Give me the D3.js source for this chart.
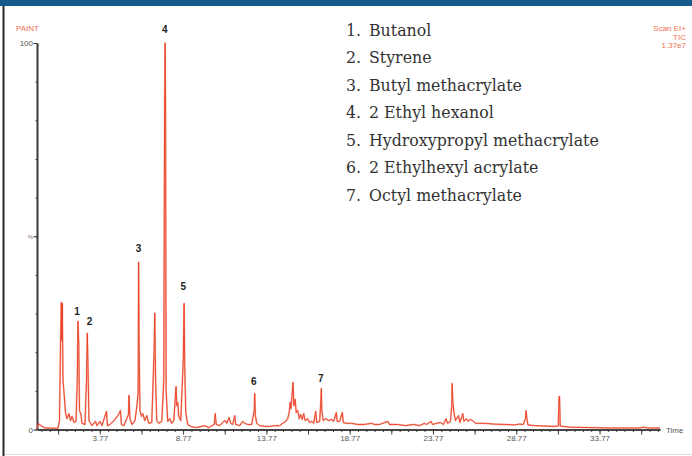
<!DOCTYPE html>
<html>
<head>
<meta charset="utf-8">
<script src="https://cdn.jsdelivr.net/npm/d3@7"></script>
<style>
  body { margin: 0; background: #fff; }
  svg { display: block; }
</style>
</head>
<body>
<svg id="chart" width="692" height="456"></svg>
<script>
// retention time (min) of each point of the TIC trace
let retTime = [0, 0.09, 0.24, 0.48, 1.26, 1.35, 1.41, 1.46, 1.49, 1.52, 1.56, 1.64, 1.71, 1.80, 1.92, 2.01, 2.10, 2.22, 2.34, 2.42,
  2.46, 2.51, 2.55, 2.64, 2.70, 2.88, 2.97, 3.02, 3.06, 3.12, 3.30, 3.51, 3.60, 3.78, 3.90, 4.17, 4.23, 4.38, 4.62, 4.86,
  5.01, 5.07, 5.22, 5.49, 5.52, 5.58, 5.70, 5.88, 6.00, 6.07, 6.10, 6.13, 6.18, 6.27, 6.35, 6.47, 6.59, 6.71, 6.89, 7.03,
  7.07, 7.12, 7.19, 7.31, 7.49, 7.61, 7.66, 7.69, 7.72, 7.75, 7.85, 7.97, 8.09, 8.21, 8.35, 8.39, 8.45, 8.51, 8.63, 8.78,
  8.83, 8.87, 8.93, 9.05, 9.23, 9.53, 9.89, 10.07, 10.31, 10.64, 10.70, 10.76, 10.97, 11.21, 11.30, 11.39, 11.53, 11.63, 11.75, 11.87,
  11.93, 12.17, 12.35, 12.47, 12.65, 12.89, 13.04, 13.07, 13.11, 13.19, 13.37, 13.67, 13.97, 14.27, 14.57, 14.75, 14.93, 15.05, 15.14, 15.20,
  15.25, 15.30, 15.37, 15.42, 15.50, 15.56, 15.65, 15.74, 15.83, 15.92, 16.01, 16.10, 16.25, 16.37, 16.49, 16.61, 16.73, 16.79, 16.97, 17.04,
  17.07, 17.10, 17.18, 17.33, 17.51, 17.69, 17.81, 17.97, 18.02, 18.17, 18.33, 18.39, 18.59, 18.88, 19.24, 19.66, 20.08, 20.26, 20.56, 21.06,
  21.16, 21.64, 22.12, 22.60, 22.96, 23.26, 23.38, 23.66, 23.74, 23.98, 24.22, 24.40, 24.56, 24.64, 24.82, 24.90, 24.92, 24.96, 25.03, 25.12,
  25.30, 25.39, 25.56, 25.63, 25.78, 25.87, 26.02, 26.16, 26.32, 26.86, 27.46, 28.06, 28.66, 28.96, 29.20, 29.32, 29.36, 29.41, 29.47, 29.86,
  30.46, 31.06, 31.29, 31.34, 31.37, 31.41, 31.95, 33.15, 34.35, 36.15, 36.45, 36.63, 37.4];

// relative abundance (%) at each of those times
let abundance = [0.3, 1.5, 1.0, 0.4, 0.3, 2.3, 21.8, 32.9, 23.0, 32.6, 12.7, 8.5, 4.4, 2.8, 4.1, 2.3, 3.4, 1.8, 2.1, 12.7,
  28.0, 21.8, 4.9, 3.9, 1.6, 1.3, 12.7, 24.9, 16.6, 2.3, 1.0, 2.1, 1.0, 2.1, 1.0, 4.7, 1.0, 1.3, 2.3, 3.6,
  4.9, 1.3, 1.0, 3.9, 8.8, 2.8, 1.3, 2.3, 6.2, 9.6, 43.3, 21.8, 4.9, 3.4, 4.1, 2.3, 3.6, 1.6, 1.8, 20.5,
  30.1, 12.7, 2.3, 1.6, 2.1, 12.7, 82.1, 100, 82.1, 10.1, 2.1, 2.8, 1.6, 2.3, 11.1, 6.2, 7.0, 3.4, 2.3, 17.9,
  32.6, 16.1, 4.4, 1.3, 0.8, 0.5, 0.8, 1.0, 0.5, 1.3, 4.1, 1.3, 1.0, 2.1, 2.3, 1.6, 3.1, 1.6, 1.3, 3.6,
  1.3, 1.0, 2.1, 1.6, 1.3, 1.3, 4.9, 9.3, 3.6, 1.6, 1.0, 0.8, 0.8, 1.0, 1.0, 1.6, 2.1, 2.8, 4.4, 7.0,
  5.4, 8.5, 12.2, 6.2, 7.8, 4.4, 4.9, 2.8, 3.9, 2.6, 4.1, 2.3, 2.8, 1.8, 2.1, 1.6, 4.7, 1.8, 2.1, 7.5,
  10.6, 4.9, 2.3, 2.8, 2.3, 2.6, 2.1, 4.4, 2.1, 2.1, 4.4, 1.8, 1.6, 1.6, 1.3, 1.3, 1.6, 1.3, 1.3, 2.1,
  1.3, 1.3, 1.0, 1.3, 1.0, 1.6, 1.3, 2.1, 1.3, 1.6, 1.8, 1.3, 2.8, 1.6, 2.1, 6.2, 11.9, 7.5, 4.4, 2.3,
  3.6, 1.8, 4.1, 2.1, 2.8, 2.1, 2.6, 2.3, 1.6, 1.6, 1.4, 1.3, 1.2, 1.4, 1.3, 2.8, 4.9, 2.8, 1.2, 1.0,
  0.9, 0.8, 0.9, 8.5, 8.5, 0.9, 0.6, 0.5, 0.4, 0.4, 0.6, 0.4, 0.4];

// numbered peaks: where each number sits (time, % level)
let peakIds = ["1", "2", "3", "4", "5", "6", "7"];
let peakLabelTime = [2.40, 3.15, 6.09, 7.67, 8.78, 13.01, 17.03];
let peakLabelLevel = [30.6, 28.0, 46.9, 103.6, 37.0, 12.4, 13.2];
let peakNames = ["Butanol", "Styrene", "Butyl methacrylate", "2 Ethyl hexanol",
  "Hydroxypropyl methacrylate", "2 Ethylhexyl acrylate", "Octyl methacrylate"];

// axis labels
let timeLabels = [3.77, 8.77, 13.77, 18.77, 23.77, 28.77, 33.77];
let yLabelValues = [0, 50, 100];
let yLabelTexts = ["0", "%", "100"];

let svg = d3.select("#chart");

// frame of the figure
svg.append("rect").attr("x", 0).attr("y", 0).attr("width", 692).attr("height", 6).attr("fill", "#165a8b");
svg.append("rect").attr("x", 2.5).attr("y", 6).attr("width", 2).attr("height", 450).attr("fill", "#2a2a2a");
svg.append("line").attr("x1", 5).attr("x2", 692).attr("y1", 454.5).attr("y2", 454.5)
  .attr("stroke", "#dcdcdc").attr("stroke-width", 1);

// set the ranges
let x = d3.scaleLinear().domain([0, 37.4]).range([37, 660]);
let y = d3.scaleLinear().domain([0, 100]).range([429.5, 43]);

let axisColor = "#3a3a3a";
let smallFont = "Liberation Sans, Arial, sans-serif";

// x axis: minor ticks every 0.5 min, longer ticks every 2.5 min
let xMinor = svg.append("g").attr("transform", "translate(0,429.5)")
  .call(d3.axisBottom(x).tickValues(d3.range(0.27, 37.4, 0.5)).tickSize(2.5).tickSizeOuter(0).tickFormat(""));
let xMajor = svg.append("g").attr("transform", "translate(0,429.5)")
  .call(d3.axisBottom(x).tickValues(d3.range(1.27, 37.4, 2.5)).tickSize(5).tickSizeOuter(0)
    .tickFormat(d => timeLabels.some(t => Math.abs(t - d) < 0.01) ? d.toFixed(2) : ""));
[xMinor, xMajor].forEach(g => {
  g.select(".domain").attr("stroke", axisColor).attr("stroke-width", 1.6);
  g.selectAll(".tick line").attr("stroke", axisColor);
  g.selectAll("text").attr("fill", "#555").attr("font-size", 8).attr("font-family", smallFont).attr("dy", "0.45em");
});

// y axis
let yMinor = svg.append("g").attr("transform", "translate(37,0)")
  .call(d3.axisLeft(y).tickValues(d3.range(0, 101, 10)).tickSize(1.5).tickSizeOuter(0).tickFormat(""));
let yMajor = svg.append("g").attr("transform", "translate(37,0)")
  .call(d3.axisLeft(y).tickValues(yLabelValues).tickSize(3.5).tickSizeOuter(0)
    .tickFormat((d, i) => yLabelTexts[i]));
[yMinor, yMajor].forEach(g => {
  g.select(".domain").attr("stroke", axisColor).attr("stroke-width", 1.6);
  g.selectAll(".tick line").attr("stroke", axisColor);
  g.selectAll("text").attr("fill", "#555").attr("font-size", 8).attr("font-family", smallFont).attr("x", -4);
});
yMajor.selectAll(".tick text").filter((d, i) => i === 1).attr("font-size", 6).attr("fill", "#8a7080");

svg.append("text").attr("x", 666).attr("y", 432.5).text("Time")
  .attr("font-size", 8).attr("font-family", smallFont).attr("fill", "#555");

// the TIC trace
let line = d3.line()
  .x((d, i) => x(retTime[i]))
  .y(d => y(d));

svg.append("path")
  .datum(abundance)
  .attr("fill", "none")
  .attr("stroke", "#f27c62")
  .attr("stroke-width", 1.8)
  .attr("stroke-opacity", 0.55)
  .attr("stroke-linejoin", "round")
  .attr("d", line);
svg.append("path")
  .datum(abundance)
  .attr("fill", "none")
  .attr("stroke", "#ea3c22")
  .attr("stroke-width", 0.9)
  .attr("stroke-linejoin", "round")
  .attr("d", line);

// peak numbers
svg.selectAll(".peak-id")
  .data(peakIds)
  .enter().append("text")
    .attr("class", "peak-id")
    .attr("x", (d, i) => x(peakLabelTime[i]))
    .attr("y", (d, i) => y(peakLabelLevel[i]))
    .attr("dy", "0.36em")
    .attr("text-anchor", "middle")
    .attr("font-family", smallFont)
    .attr("font-weight", "bold")
    .attr("font-size", 10)
    .attr("fill", "#222")
    .text(d => d);

// header texts
svg.append("text").attr("x", 16).attr("y", 31).text("PAINT")
  .attr("font-size", 8).attr("font-family", smallFont).attr("fill", "#f07050");
let header = svg.append("g").attr("font-size", 8).attr("font-family", smallFont)
  .attr("fill", "#f07050").attr("text-anchor", "end");
["Scan EI+", "TIC", "1.37e7"].forEach((t, i) => {
  header.append("text").attr("x", 686).attr("y", 31 + i * 8.6).text(t);
});

// list of compounds
let legend = svg.append("g")
  .attr("font-family", "DejaVu Serif, Liberation Serif, serif")
  .attr("font-size", 15.8)
  .attr("fill", "#333");
peakNames.forEach((name, i) => {
  let yy = 36 + i * 27.45;
  legend.append("text").attr("x", 346).attr("y", yy).text(peakIds[i] + ".");
  legend.append("text").attr("x", 369).attr("y", yy).text(name);
});
</script>
</body>
</html>
